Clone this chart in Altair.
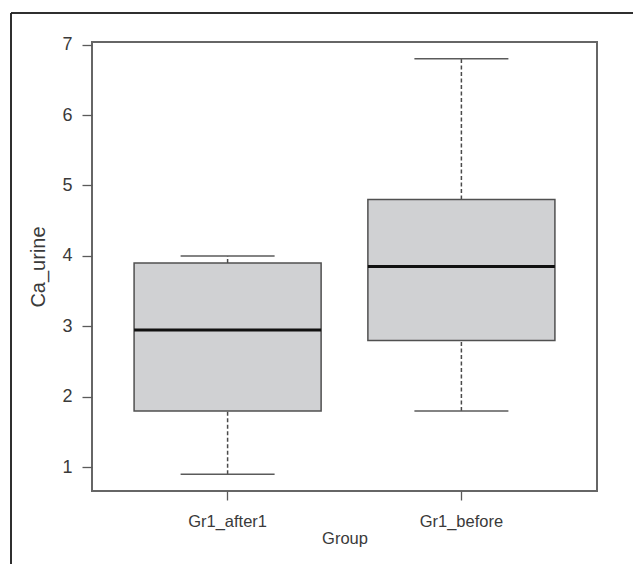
import altair as alt
import pandas as pd

groups = ["Gr1_after1", "Gr1_before"]
lower_whisker = [0.9, 1.8]
q1 = [1.8, 2.8]
median = [2.95, 3.85]
q3 = [3.9, 4.8]
upper_whisker = [4.0, 6.8]
y_ticks = [1, 2, 3, 4, 5, 6, 7]

df = pd.DataFrame({
    "group": groups,
    "lower": lower_whisker,
    "q1": q1,
    "median": median,
    "q3": q3,
    "upper": upper_whisker,
})

FONT = "Liberation Sans, Arial"
TXT = "#3a3a3a"
GRAY = "#5a5a5a"

x_enc = alt.X(
    "group:N",
    sort=groups,
    scale=alt.Scale(paddingInner=0.2, paddingOuter=0.18),
    axis=alt.Axis(
        title="Group", labelAngle=0, domain=False, grid=False,
        tickSize=9, tickColor=GRAY, tickWidth=1.3,
        labelBaseline="alphabetic", labelPadding=26, labelFontSize=16.5,
        titleBaseline="alphabetic", titleY=52, titleFontSize=16.5,
    ),
)

yscale = alt.Scale(domain=[0.664, 7.036], nice=False, zero=False)
yaxis = alt.Axis(
    values=y_ticks, title="Ca_urine", grid=False, domain=False,
    tickSize=10, tickColor=GRAY, tickWidth=1.3, labelPadding=10,
    labelFontSize=18, titleFontSize=20,
    titleX=-48, titleBaseline="alphabetic",
)

def Y(field):
    return alt.Y(f"{field}:Q", scale=yscale, axis=yaxis, title="Ca_urine")

base = alt.Chart(df)

whisk_lo = base.mark_rule(color="#4a4a4a", strokeWidth=1.5, strokeDash=[4, 2.5]).encode(
    x=x_enc, y=Y("lower"), y2="q1:Q")
whisk_hi = base.mark_rule(color="#4a4a4a", strokeWidth=1.5, strokeDash=[4, 2.5]).encode(
    x=x_enc, y=Y("q3"), y2="upper:Q")
box = base.mark_bar(fill="#d0d1d3", stroke="#505050", strokeWidth=1.5).encode(
    x=x_enc, y=Y("q1"), y2="q3:Q")
med = base.mark_tick(color="#111111", size=187, thickness=3, opacity=1).encode(
    x=x_enc, y=Y("median"))
cap_lo = base.mark_tick(color=GRAY, size=94, thickness=1.5, opacity=1).encode(
    x=x_enc, y=Y("lower"))
cap_hi = base.mark_tick(color=GRAY, size=94, thickness=1.5, opacity=1).encode(
    x=x_enc, y=Y("upper"))

frame_top = alt.Chart(df).mark_rule(color="#222222", strokeWidth=1.5).encode(
    x=alt.value(-81), x2=alt.value(560), y=alt.value(-29))
frame_left = alt.Chart(df).mark_rule(color="#222222", strokeWidth=1.5).encode(
    x=alt.value(-81), y=alt.value(-29), y2=alt.value(540))

chart = alt.layer(
    frame_top, frame_left, whisk_lo, whisk_hi, box, med, cap_lo, cap_hi
).properties(
    width=505, height=449,
    autosize=alt.AutoSizeParams(type="none"),
    padding={"left": 92, "top": 42, "right": 36, "bottom": 73},
    background="white",
).configure_view(
    stroke="#666666", strokeWidth=2
).configure_axis(
    labelFont=FONT, titleFont=FONT,
    labelColor=TXT, titleColor=TXT, titleFontWeight="normal",
)

chart.save("out.html", embed_options={"renderer": "svg", "actions": False})
